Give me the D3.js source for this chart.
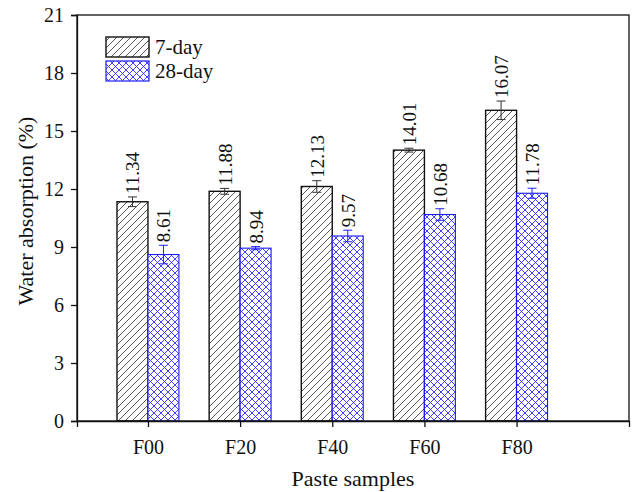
<!DOCTYPE html>
<html>
<head>
<meta charset="utf-8">
<script src="https://cdn.jsdelivr.net/npm/d3@7"></script>
<style>
  html, body { margin: 0; padding: 0; background: #fff; }
  svg { display: block; }
  text { font-family: "Liberation Serif", "Times New Roman", serif; fill: #111; }
</style>
</head>
<body>
<script>
const categories = ["F00", "F20", "F40", "F60", "F80"];
const series = ["7-day", "28-day"];
const values7 = [11.34, 11.88, 12.13, 14.01, 16.07];
const values28 = [8.61, 8.94, 9.57, 10.68, 11.78];
const errors7 = [0.25, 0.15, 0.30, 0.10, 0.48];
const errors28 = [0.48, 0.08, 0.30, 0.30, 0.26];
const yTicks = [0, 3, 6, 9, 12, 15, 18, 21];

const W = 635, H = 492;
const mLeft = 77, mRight = 629, mTop = 15, mBottom = 421;

const svg = d3.select("body").append("svg").attr("width", W).attr("height", H);

const defs = svg.append("defs");
const p1 = defs.append("pattern").attr("id", "hatch").attr("patternUnits", "userSpaceOnUse")
  .attr("width", 7).attr("height", 7);
p1.append("rect").attr("width", 7).attr("height", 7).attr("fill", "#fff");
p1.append("path").attr("d", "M-1,1 l2,-2 M0,7 l7,-7 M6,8 l2,-2")
  .attr("stroke", "#444").attr("stroke-width", 0.9);

const p2 = defs.append("pattern").attr("id", "cross").attr("patternUnits", "userSpaceOnUse")
  .attr("width", 7).attr("height", 7);
p2.append("rect").attr("width", 7).attr("height", 7).attr("fill", "#fff");
p2.append("path").attr("d", "M-1,1 l2,-2 M0,7 l7,-7 M6,8 l2,-2 M-1,6 l2,2 M0,0 l7,7 M6,-1 l2,2")
  .attr("stroke", "#2b2bff").attr("stroke-width", 0.9);

const x = d3.scaleLinear().domain([0.23, 6.22]).range([mLeft, mRight]);
const y = d3.scaleLinear().domain([0, 21]).range([mBottom, mTop]);
const bw = x(1.336) - x(1);

const data = [];
categories.forEach((c, i) => {
  data.push({ cat: c, i: i + 1, s: 0, v: values7[i], e: errors7[i] });
  data.push({ cat: c, i: i + 1, s: 1, v: values28[i], e: errors28[i] });
});

const fills = ["url(#hatch)", "url(#cross)"];
const strokes = ["#111", "#1a1aff"];
const errColors = ["#333", "#2020ff"];

// bars
svg.selectAll("rect.bar").data(data).enter().append("rect")
  .attr("class", "bar")
  .attr("x", d => x(d.i) - (d.s === 0 ? bw : 0))
  .attr("y", d => y(d.v))
  .attr("width", bw)
  .attr("height", d => y(0) - y(d.v))
  .attr("fill", d => fills[d.s])
  .attr("stroke", d => strokes[d.s])
  .attr("stroke-width", d => d.s === 0 ? 1.4 : 1.1);

// error bars
const cx = d => x(d.i) + (d.s === 0 ? -bw / 2 : bw / 2);
const eg = svg.selectAll("g.err").data(data).enter().append("g").attr("class", "err")
  .attr("stroke", d => errColors[d.s]).attr("stroke-width", 1);
eg.append("line").attr("x1", cx).attr("x2", cx)
  .attr("y1", d => y(d.v - d.e)).attr("y2", d => y(d.v + d.e));
eg.append("line").attr("x1", d => cx(d) - 4.5).attr("x2", d => cx(d) + 4.5)
  .attr("y1", d => y(d.v + d.e)).attr("y2", d => y(d.v + d.e));
eg.append("line").attr("x1", d => cx(d) - 4.5).attr("x2", d => cx(d) + 4.5)
  .attr("y1", d => y(d.v - d.e)).attr("y2", d => y(d.v - d.e));

// value labels (rotated)
svg.selectAll("text.val").data(data).enter().append("text")
  .attr("class", "val")
  .attr("transform", d => `translate(${cx(d) + 7},${y(d.v + d.e) - 3}) rotate(-90)`)
  .attr("text-anchor", "start")
  .attr("font-size", 19)
  .text(d => d.v.toFixed(2));

// frame
svg.append("rect").attr("x", mLeft).attr("y", mTop).attr("width", mRight - mLeft).attr("height", mBottom - mTop)
  .attr("fill", "none").attr("stroke", "#111").attr("stroke-width", 1.3);

// y axis
const yAxis = svg.append("g").attr("transform", `translate(${mLeft},0)`)
  .call(d3.axisLeft(y).tickValues(yTicks).tickSize(6).tickPadding(7).tickFormat(d3.format("d")));
yAxis.select(".domain").attr("stroke", "#111").attr("stroke-width", 1.3);
yAxis.selectAll(".tick line").attr("stroke", "#111").attr("stroke-width", 1.3);
yAxis.selectAll("text").attr("font-size", 20).attr("font-family", "Liberation Serif, serif").attr("fill", "#111");

// x axis
const xAxis = svg.append("g").attr("transform", `translate(0,${mBottom})`)
  .call(d3.axisBottom(x).tickValues([1, 2, 3, 4, 5]).tickSize(6).tickPadding(13)
    .tickFormat(d => categories[d - 1]));
xAxis.select(".domain").attr("stroke", "#111").attr("stroke-width", 1.3);
xAxis.selectAll(".tick line").attr("stroke", "#111").attr("stroke-width", 1.3);
xAxis.selectAll("text").attr("font-size", 20).attr("font-family", "Liberation Serif, serif").attr("fill", "#111");

// axis titles
svg.append("text").attr("transform", `translate(33,211) rotate(-90)`)
  .attr("text-anchor", "middle").attr("font-size", 22).text("Water absorption (%)");
svg.append("text").attr("x", 353).attr("y", 486)
  .attr("text-anchor", "middle").attr("font-size", 22).text("Paste samples");

// legend
const lg = svg.append("g");
series.forEach((s, i) => {
  lg.append("rect").attr("x", 106).attr("y", 37 + i * 24).attr("width", 43).attr("height", 20)
    .attr("fill", fills[i]).attr("stroke", strokes[i]).attr("stroke-width", i === 0 ? 1.4 : 1.2);
  lg.append("text").attr("x", 155).attr("y", 54 + i * 24).attr("font-size", 21).text(s);
});
</script>
</body>
</html>
